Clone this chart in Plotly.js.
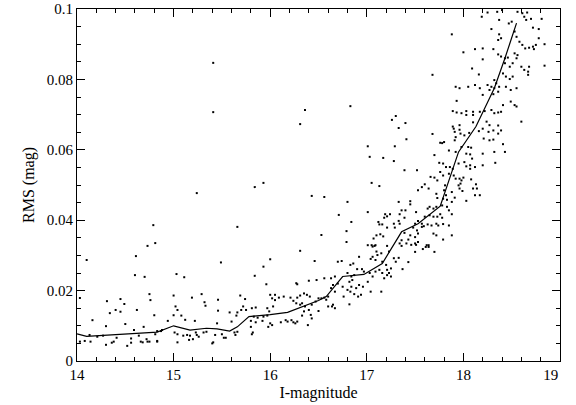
<!DOCTYPE html>
<html><head><meta charset="utf-8">
<script src="https://cdn.plot.ly/plotly-3.0.1.min.js"></script>
<style>html,body{margin:0;padding:0;background:#fff}#chart{width:576px;height:405px}</style>
</head><body><div id="chart"></div>
<script>
// Tick labels
const xTicks = [14, 15, 16, 17, 18, 19];
const xTickLabels = ['14', '15', '16', '17', '18', '19\u00a0\u00a0\u00a0\u00a0\u00a0'];
const yTicks = [0, 0.02, 0.04, 0.06, 0.08, 0.1];
const yTickLabels = ['0', '0.02', '0.04', '0.06', '0.08', '0.1'];

// Binned mean RMS curve
const binMag = [14.0,14.1,14.83,15.0,15.17,15.34,15.45,15.58,15.66,15.78,16.0,16.18,16.5,16.58,16.75,16.97,17.16,17.36,17.53,17.76,17.95,18.13,18.32,18.43,18.55];
const binRms = [0.0077,0.0070,0.0082,0.0100,0.0088,0.0093,0.0091,0.0085,0.0097,0.0126,0.0132,0.0138,0.0172,0.0183,0.0240,0.0246,0.0277,0.0367,0.0390,0.0440,0.0594,0.0666,0.0775,0.0860,0.0960];

// Stars [I-mag, RMS], grouped by region of the diagram
const starsSparseBright = [[15.41,0.0847],[15.41,0.0707],[16.36,0.0713],[16.31,0.0673],[15.24,0.0477],[15.84,0.0494],[15.93,0.0506],[16.43,0.0469],[14.79,0.0386],[15.66,0.0381],[14.73,0.0327],[14.81,0.0335]];
const starsSparseMid = [[17.68,0.0813],[16.83,0.0724],[17.30,0.0696],[17.26,0.0685],[17.40,0.0676],[17.33,0.0662],
 [17.68,0.0645],[17.41,0.0630],[17.01,0.0610],[17.29,0.0610],[17.76,0.0620],[17.03,0.0580],[17.17,0.0577],[17.28,0.0568],[17.70,0.0585],[17.75,0.0563],[17.39,0.0542],[17.52,0.0542],[17.05,0.0506],[17.13,0.0497],[16.56,0.0466],[16.80,0.0452],[16.71,0.0415],[16.84,0.0395],[17.01,0.0423],[16.53,0.0358],[16.79,0.0369],[16.79,0.0338],[17.33,0.0452],[17.45,0.0454],[17.45,0.0445],[17.53,0.0485],[17.57,0.0494],[17.60,0.0502],[17.64,0.0490],[17.66,0.0523],[17.70,0.0521],[17.73,0.0513],[17.72,0.0475],[17.73,0.0463]];
const starsMidDense = [[17.36,0.0428],[17.40,0.0428],[17.34,0.0417],[17.39,0.0407],[17.33,0.0398],[17.28,0.0390],[17.29,0.0379],[17.34,0.0390],[17.21,0.0411],[17.24,0.0417],[17.18,0.0407],[17.16,0.0388],[17.12,0.0395],[17.13,0.0388],[17.21,0.0379],[17.14,0.0360],[17.17,0.0354],[17.10,0.0357],[17.07,0.0348],[17.01,0.0329],[17.05,0.0329],[17.09,0.0329],
 [17.51,0.0423],[17.63,0.0433],[17.65,0.0438],[17.69,0.0433],[17.72,0.0438],[17.60,0.0410],[17.65,0.0414],[17.69,0.0410],[17.73,0.0410],[17.50,0.0390],[17.53,0.0398],[17.57,0.0390],[17.48,0.0379],[17.52,0.0371],[17.57,0.0381],[17.59,0.0383],[17.63,0.0388],[17.67,0.0385],[17.72,0.0390],[17.74,0.0385],
 [17.39,0.0364],[17.45,0.0357],[17.50,0.0352],[17.53,0.0362],[17.69,0.0362],[17.72,0.0357],[17.36,0.0343],[17.41,0.0334],[17.34,0.0334],[17.50,0.0334],[17.53,0.0338],[17.62,0.0329],[17.64,0.0329],[17.43,0.0345],[17.19,0.0417],
 [17.36,0.0327],[17.46,0.0330],[17.51,0.0330],[17.58,0.0318],[17.61,0.0324],[17.64,0.0324],[17.70,0.0310],[17.50,0.0310],[17.43,0.0281],[17.33,0.0293],[17.37,0.0261]];
const starsFaintMid = [[17.90,0.0660],[17.91,0.0651],[17.96,0.0657],[17.97,0.0646],[18.01,0.0641],[18.06,0.0648],[17.78,0.0619],[17.80,0.0622],[17.91,0.0627],[17.92,0.0636],
 [18.16,0.0653],[18.20,0.0660],[18.26,0.0651],[18.31,0.0655],[18.36,0.0646],[18.39,0.0655],[18.21,0.0632],[18.27,0.0627],[18.31,0.0629],[18.41,0.0616],[18.43,0.0594],[18.32,0.0594],[18.33,0.0563],[18.20,0.0589],[18.20,0.0556],
 [17.85,0.0598],[17.92,0.0594],[17.98,0.0608],[18.05,0.0608],[18.08,0.0606],[18.03,0.0589],[18.07,0.0587],[18.09,0.0575],
 [17.79,0.0561],[17.82,0.0551],[17.86,0.0551],[17.89,0.0546],[17.95,0.0561],[18.01,0.0565],[18.03,0.0553],[18.07,0.0556],[18.12,0.0551],[18.07,0.0546],
 [17.76,0.0537],[17.79,0.0527],[17.85,0.0532],[17.90,0.0527],[17.96,0.0518],[17.98,0.0513],[18.00,0.0521],[17.92,0.0518],
 [18.08,0.0516],[18.13,0.0502],[18.14,0.0490],[18.10,0.0490],[18.12,0.0471],[18.17,0.0471],[18.03,0.0455],
 [17.81,0.0499],[17.80,0.0485],[17.82,0.0471],[17.79,0.0461],[17.83,0.0458],[17.88,0.0480],[17.91,0.0464],[17.95,0.0499],[17.96,0.0490],[17.97,0.0504],[17.99,0.0483],[17.88,0.0452],
 [17.78,0.0442],[17.83,0.0438],[17.85,0.0428],[17.76,0.0417],[17.78,0.0407],[17.88,0.0417],[17.79,0.0389],[17.85,0.0385],[17.88,0.0357],[17.79,0.0345]];
const starsFaintTop = [[18.19,0.0978],[18.25,0.0990],[18.35,0.0992],[18.40,0.0997],[18.56,0.0992],[18.61,0.0988],[18.66,0.0990],[18.63,0.0978],[18.65,0.0969],[18.70,0.0972],[18.81,0.0972],[18.37,0.0969],[18.47,0.0959],[18.50,0.0964],[18.29,0.0943],[17.88,0.0928],[18.72,0.0947],[18.78,0.0943],[18.37,0.0928],[18.39,0.0917],[18.36,0.0912],[18.53,0.0936],[18.55,0.0921],[18.58,0.0907],[18.78,0.0917],
 [18.61,0.0898],[18.64,0.0888],[18.68,0.0890],[18.72,0.0893],[18.73,0.0886],[18.75,0.0898],[18.84,0.0900],[18.12,0.0886],[18.20,0.0888],[18.31,0.0886],[18.00,0.0877],[18.36,0.0871],[18.39,0.0865],[18.43,0.0860],[18.46,0.0862],[18.53,0.0874],[18.56,0.0869],[18.55,0.0860],[18.20,0.0857],
 [18.09,0.0831],[18.43,0.0846],[18.48,0.0836],[18.51,0.0846],[18.60,0.0836],[18.63,0.0827],[18.68,0.0836],[18.67,0.0822],[18.67,0.0813],[18.84,0.0839],[18.16,0.0814],[18.41,0.0817],[18.44,0.0808],[18.48,0.0801],[18.51,0.0808],[18.32,0.0798],[18.34,0.0789],[18.37,0.0779],
 [17.92,0.0779],[17.96,0.0775],[18.05,0.0779],[18.12,0.0784],[18.17,0.0775],[18.25,0.0784],[18.29,0.0779],[18.27,0.0770],[18.32,0.0775],[18.36,0.0765],[18.44,0.0779],[18.49,0.0770],[18.55,0.0775],[17.93,0.0739],[18.20,0.0756],[18.31,0.0758],
 [17.89,0.0710],[17.93,0.0706],[17.98,0.0704],[18.03,0.0710],[18.10,0.0708],[18.17,0.0708],[18.22,0.0710],[18.29,0.0713],[18.32,0.0704],[18.36,0.0706],[18.39,0.0708],[18.03,0.0699],[18.10,0.0699],[18.41,0.0727],[18.49,0.0737],[18.53,0.0727],[18.55,0.0723],[18.60,0.0680],
 [17.89,0.0666],[17.96,0.0670],[18.10,0.0678],[18.24,0.0680],[18.27,0.0670],[18.36,0.0669]];
const starsLowerMid = [[17.06,0.0325],[17.08,0.0327],[17.10,0.0311],[17.15,0.0306],[17.21,0.0327],[17.23,0.0311],[17.06,0.0296],[17.11,0.0301],
 [16.70,0.0282],[16.74,0.0284],[16.83,0.0273],[16.86,0.0277],[16.92,0.0296],[16.90,0.0261],[16.95,0.0261],[17.04,0.0290],[17.09,0.0287],[17.16,0.0282],
 [17.20,0.0273],[17.21,0.0259],[17.23,0.0250],[17.25,0.0263],[17.28,0.0292],[17.30,0.0282],
 [16.56,0.0235],[16.63,0.0235],[16.67,0.0240],[16.80,0.0250],[16.84,0.0240],[16.87,0.0244],[16.97,0.0254],[17.03,0.0250],[17.06,0.0240],[17.09,0.0254],[17.13,0.0259],[17.16,0.0250],[17.18,0.0235],[17.21,0.0244],[17.25,0.0240],
 [16.65,0.0216],[16.70,0.0220],[16.63,0.0207],[16.67,0.0197],[16.60,0.0183],[16.75,0.0211],[16.80,0.0202],[16.82,0.0225],[16.85,0.0230],[16.84,0.0211],[16.89,0.0207],[16.92,0.0216],[16.83,0.0197],[16.87,0.0190],[16.96,0.0211],[17.01,0.0225],[17.04,0.0197],[17.15,0.0197],[16.94,0.0188],[16.91,0.0183],
 [16.50,0.0178],[16.53,0.0178],[16.56,0.0180],[16.58,0.0174],[16.60,0.0155],[16.64,0.0155],[16.67,0.0150],[16.65,0.0160],[16.82,0.0161],[16.76,0.0183],[16.50,0.0142]];
const starsLowerCentre = [[16.31,0.0313],[16.46,0.0284],[16.00,0.0289],[15.93,0.0268],[15.84,0.0242],[15.96,0.0218],[16.48,0.0230],[16.27,0.0221],[16.28,0.0218],[16.40,0.0228],
 [15.69,0.0186],[15.74,0.0176],[15.72,0.0155],[15.75,0.0145],[15.70,0.0145],[15.66,0.0138],[15.81,0.0150],[15.85,0.0152],
 [16.00,0.0188],[16.05,0.0188],[16.02,0.0178],[16.05,0.0173],[16.09,0.0180],[16.14,0.0183],[16.03,0.0155],[15.97,0.0150],[15.99,0.0141],
 [16.21,0.0180],[16.28,0.0180],[16.31,0.0186],[16.35,0.0192],[16.38,0.0188],[16.41,0.0183],[16.24,0.0171],[16.27,0.0164],[16.31,0.0160],[16.33,0.0164],[16.36,0.0155],[16.43,0.0160],[16.40,0.0145],[16.47,0.0169],
 [15.83,0.0126],[15.87,0.0123],[15.93,0.0126],[15.97,0.0129],[15.80,0.0114],[15.85,0.0110],[15.92,0.0114],[16.00,0.0107],[16.02,0.0102],[15.98,0.0097],[15.80,0.0097],[15.82,0.0081],[15.81,0.0076],[15.66,0.0083],
 [16.11,0.0110],[16.16,0.0116],[16.18,0.0112],[16.22,0.0116],[16.24,0.0110],[16.26,0.0107],[16.28,0.0112],[16.33,0.0129],[16.39,0.0102],[16.35,0.0141],[16.42,0.0131],[16.43,0.0121]];
const starsLowerBright = [[15.49,0.0280],[15.03,0.0247],[15.11,0.0238],[15.00,0.0186],[15.19,0.0180],[15.29,0.0190],[15.32,0.0167],[15.33,0.0157],[15.46,0.0174],[15.02,0.0155],[15.04,0.0145],[15.46,0.0143],[15.58,0.0138],[15.65,0.0129],[15.00,0.0130],[14.94,0.0114],[15.08,0.0129],[15.12,0.0117],[15.22,0.0114],[15.45,0.0107],[15.60,0.0112],
 [14.83,0.0085],[14.87,0.0085],[14.88,0.0088],[14.83,0.0057],[15.01,0.0081],[15.04,0.0076],[15.10,0.0072],[15.14,0.0074],[15.17,0.0072],[15.23,0.0081],[15.24,0.0074],[15.31,0.0081],[15.34,0.0083],[15.40,0.0050],[15.43,0.0074],[15.50,0.0076],[15.52,0.0066],[15.54,0.0066],[15.63,0.0081],[15.64,0.0074],[15.04,0.0053],[15.16,0.0060],[15.20,0.0062],[15.41,0.0053],[15.26,0.0069],
 [14.10,0.0287],[14.61,0.0298],[14.60,0.0244],[14.70,0.0239],[14.03,0.0179],[14.31,0.0170],[14.45,0.0176],[14.49,0.0162],[14.75,0.0190],[14.76,0.0173],[14.40,0.0145],[14.45,0.0140],[14.34,0.0136],[14.62,0.0145],[14.80,0.0130],[14.16,0.0116],[14.50,0.0105],[14.30,0.0099],[14.69,0.0097],[14.59,0.0088],[14.13,0.0074],
 [14.03,0.0055],[14.08,0.0057],[14.14,0.0055],[14.21,0.0069],[14.27,0.0072],[14.30,0.0046],[14.36,0.0052],[14.38,0.0055],[14.41,0.0066],[14.52,0.0043],[14.56,0.0064],[14.56,0.0052],[14.64,0.0072],[14.66,0.0055],[14.68,0.0053],[14.72,0.0062],[14.73,0.0055],[14.75,0.0055],[14.81,0.0076],[14.83,0.0055]];

const allStars = [].concat(starsSparseBright, starsSparseMid, starsMidDense, starsFaintMid, starsFaintTop, starsLowerMid, starsLowerCentre, starsLowerBright);

const traces = [
  {type:'scatter', mode:'markers', x: allStars.map(p=>p[0]), y: allStars.map(p=>p[1]),
   marker:{symbol:'square', size:2, color:'black', line:{width:0}}, hoverinfo:'x+y'},
  {type:'scatter', mode:'lines', x: binMag, y: binRms, line:{color:'black', width:1.2}, hoverinfo:'x+y'}
];

const axisCommon = {
  ticks:'inside', ticklen:8, tickwidth:1, tickcolor:'black',
  showline:true, linecolor:'black', linewidth:1, mirror:'ticks',
  showgrid:false, zeroline:false, tickmode:'array', ticklabeloverflow:'allow'
};

const layout = {
  width:576, height:405,
  margin:{l:77, r:16, t:9, b:44},
  paper_bgcolor:'white', plot_bgcolor:'white', showlegend:false,
  font:{family:'Liberation Serif, DejaVu Serif, serif', size:15, color:'black'},
  xaxis: Object.assign({}, axisCommon, {
    range:[14,19], tickvals:xTicks, ticktext:xTickLabels,
    minor:{tickmode:'linear', tick0:14, dtick:0.2, ticks:'inside', ticklen:4, tickcolor:'black', showgrid:false},
    title:{text:'I-magnitude', standoff:4, font:{size:16}}
  }),
  yaxis: Object.assign({}, axisCommon, {
    range:[0,0.1], tickvals:yTicks, ticktext:yTickLabels,
    minor:{tickmode:'linear', tick0:0, dtick:0.005, ticks:'inside', ticklen:4, tickcolor:'black', showgrid:false},
    title:{text:'RMS (mag)', standoff:8, font:{size:16}}
  })
};

Plotly.newPlot('chart', traces, layout, {staticPlot:true, displayModeBar:false});
</script>
</body></html>
